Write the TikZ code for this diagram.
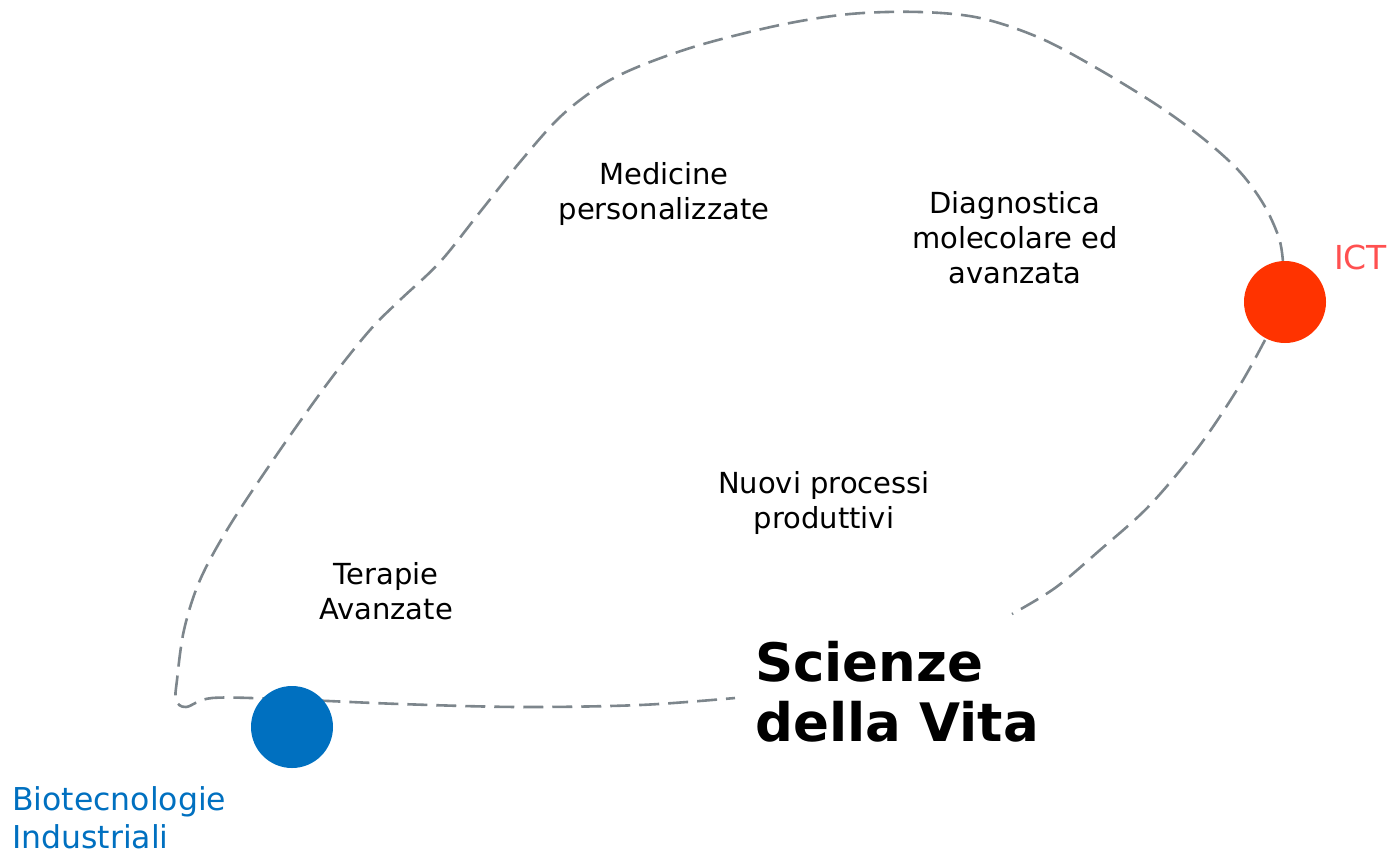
\documentclass[tikz,border=0pt]{standalone}
\usepackage{fontspec}
\setmainfont{DejaVu Sans}
\definecolor{loopgray}{HTML}{7D868C}
\definecolor{bioblue}{HTML}{0070C0}
\definecolor{ictred}{HTML}{FF3300}
\definecolor{ictlabel}{HTML}{FF5050}
\tikzset{
  loopline/.style={draw=loopgray, line width=2.6pt, dash pattern=on 20pt off 9pt, line cap=butt},
  label/.style={align=center, inner sep=0pt, font=\fontsize{29}{35}\selectfont},
  dot/.style={circle, minimum size=82pt, inner sep=0pt},
}
\begin{document}
\begin{tikzpicture}[x=1pt,y=-1pt]
\useasboundingbox (0,0) rectangle (1396,855);
\draw[loopline] plot[smooth, tension=0.55] coordinates {
 (1283,262) (1279,238) (1264,205) (1240,172) (1205,140) (1160,107) (1100,70)
 (1040,38) (980,18) (920,12) (850,14) (780,25) (700,45) (640,66) (600,86)
 (560,117) (520,162) (480,212) (440,262) (400,300) (370,330) (330,380)
 (280,450) (230,525) (200,580) (184,630) (177,680) (176,700) (186,707)
 (212,698) (280,699) (400,704) (520,707) (640,705) (735,698)};
\draw[loopline] plot[smooth, tension=0.55] coordinates {
 (1265,340) (1240,385) (1200,445) (1150,505) (1100,550) (1055,588) (1012,614)};
\node[dot, fill=ictred] (ict) at (1285,302) {};
\node[dot, fill=bioblue] (bio) at (292,727) {};
\node[anchor=west, inner sep=0pt, text=ictlabel, font=\fontsize{33}{35}\selectfont] (ictl) at (1334,257) {ICT};
\node[anchor=north west, align=left, inner sep=0pt, text=bioblue, font=\fontsize{31.5}{38}\selectfont] (biol) at (12,786) {Biotecnologie\\Industriali};
\node[label] (med) at (664,194) {Medicine\\personalizzate};
\node[label] (diag) at (1015,238) {Diagnostica\\molecolare ed\\avanzata};
\node[label] (nuovi) at (824,503) {Nuovi processi\\produttivi};
\node[label] (ter) at (386,591) {Terapie\\Avanzate};
\node[anchor=west, align=left, inner sep=0pt, font=\bfseries\fontsize{53}{60}\selectfont] (sci) at (755,692) {Scienze\\della Vita};
\end{tikzpicture}
\end{document}
